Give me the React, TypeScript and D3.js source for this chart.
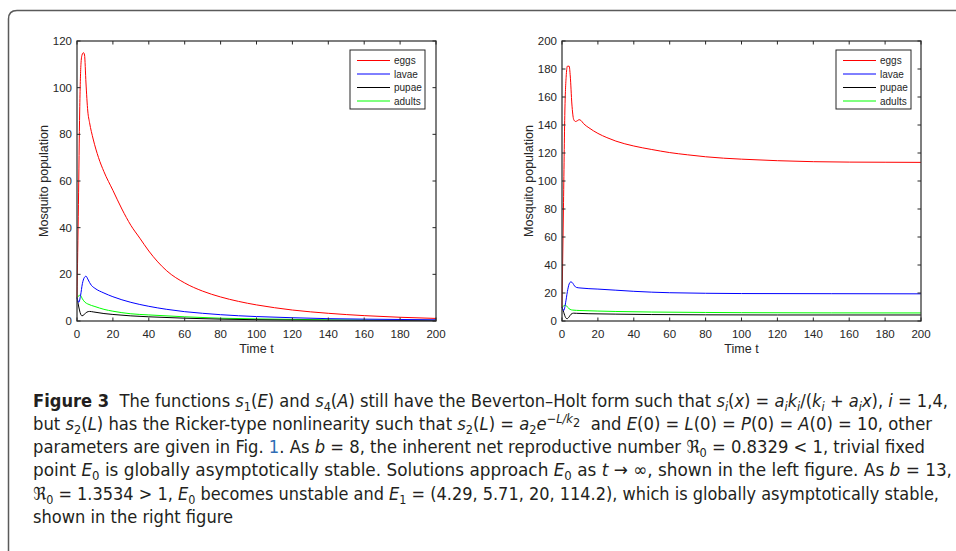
import * as d3 from "d3";

// ---------------------------------------------------------------------------
// DATA  ([t, population])
// ---------------------------------------------------------------------------
// left panel, b = 8
const eggsB8: [number, number][] = [
  [0, 10], [0.8, 50], [1.5, 90], [2.2, 110], [2.8, 114], [3.6, 115], [4.2, 114],
  [5, 102], [6, 90], [7, 85], [9, 78], [12, 70], [15, 64], [20, 56], [25, 48],
  [30, 41], [35, 35.5], [40, 30], [50, 21.5], [60, 16.3], [70, 12.8], [80, 10.3],
  [90, 8.4], [100, 6.9], [110, 5.7], [120, 4.7], [140, 3.3], [160, 2.3], [180, 1.6], [200, 1.1],
];
const lavaeB8: [number, number][] = [
  [0, 10], [1, 8], [2, 11], [3, 16], [4, 18.5], [5, 19.2], [6, 18], [7, 16.5], [8, 15.3],
  [10, 14], [15, 12], [20, 10.4], [30, 8], [40, 6.3], [50, 5], [60, 4], [70, 3.3], [80, 2.7],
  [100, 1.9], [120, 1.4], [140, 1.0], [160, 0.8], [180, 0.65], [200, 0.5],
];
const pupaeB8: [number, number][] = [
  [0, 10], [1, 6], [2, 3], [2.8, 2.2], [4, 2.8], [5.5, 3.8], [7, 4.1], [9, 3.9], [15, 3.2],
  [20, 2.8], [30, 2.2], [40, 1.8], [60, 1.2], [80, 0.8], [100, 0.55], [140, 0.3], [200, 0.15],
];
const adultsB8: [number, number][] = [
  [0, 10], [1, 10.8], [1.8, 11.1], [3, 9.5], [4.5, 8], [6, 7.3], [10, 6.2], [15, 5], [20, 4.2],
  [30, 3.1], [40, 2.6], [60, 1.8], [80, 1.2], [100, 0.9], [140, 0.5], [200, 0.3],
];

// right panel, b = 13
const eggsB13: [number, number][] = [
  [0, 10], [0.8, 80], [1.6, 150], [2.4, 176], [3, 182], [4, 182], [4.6, 175], [5.5, 155],
  [6.5, 144], [7.5, 142.5], [8.5, 143], [9.5, 143.8], [10.5, 143.3], [12, 141], [15, 138],
  [20, 134], [25, 131], [30, 128.5], [40, 125], [50, 122.5], [60, 120.3], [70, 118.7],
  [80, 117.3], [90, 116.3], [100, 115.6], [120, 114.5], [140, 113.8], [160, 113.5],
  [180, 113.4], [200, 113.3],
];
const lavaeB13: [number, number][] = [
  [0, 10], [1, 7.5], [2, 13], [3, 21], [4, 26.5], [5, 28], [6, 27], [7, 25], [8, 24],
  [10, 23.6], [20, 22.8], [30, 22], [40, 21.2], [50, 20.6], [60, 20.2], [80, 19.8],
  [100, 19.6], [150, 19.5], [200, 19.4],
];
const pupaeB13: [number, number][] = [
  [0, 10], [1, 6], [2, 2.5], [2.8, 1.6], [4, 3], [5, 4.8], [6.5, 5.6], [8, 5.5], [15, 5.2],
  [30, 4.9], [50, 4.6], [80, 4.4], [120, 4.3], [200, 4.3],
];
const adultsB13: [number, number][] = [
  [0, 10], [1, 10.8], [2, 11.3], [3, 10], [4.5, 8.3], [6, 7.8], [10, 7.5], [20, 7.1],
  [30, 6.8], [50, 6.4], [80, 6.1], [100, 5.95], [150, 5.8], [200, 5.75],
];

const seriesNames = ["eggs", "lavae", "pupae", "adults"];
const seriesColors = ["#ff0000", "#0000ff", "#000000", "#00ff00"];

const xTicks = [0, 20, 40, 60, 80, 100, 120, 140, 160, 180, 200];
const yTicksB8 = [0, 20, 40, 60, 80, 100, 120];
const yTicksB13 = [0, 20, 40, 60, 80, 100, 120, 140, 160, 180, 200];

// caption: one array of runs per line
type Run = { t: string; i?: boolean; b?: boolean; sub?: boolean; sup?: boolean; link?: boolean };
const captionLines: Run[][] = [
  [
    { t: "Figure 3", b: true }, { t: "  The functions " }, { t: "s", i: true }, { t: "1", sub: true },
    { t: "(" }, { t: "E", i: true }, { t: ") and " }, { t: "s", i: true }, { t: "4", sub: true },
    { t: "(" }, { t: "A", i: true }, { t: ") still have the Beverton–Holt form such that " },
    { t: "s", i: true }, { t: "i", i: true, sub: true }, { t: "(" }, { t: "x", i: true }, { t: ") = " },
    { t: "a", i: true }, { t: "i", i: true, sub: true }, { t: "k", i: true }, { t: "i", i: true, sub: true },
    { t: "/(" }, { t: "k", i: true }, { t: "i", i: true, sub: true }, { t: " + " }, { t: "a", i: true },
    { t: "i", i: true, sub: true }, { t: "x", i: true }, { t: "), " }, { t: "i", i: true }, { t: " = 1,4," },
  ],
  [
    { t: "but " }, { t: "s", i: true }, { t: "2", sub: true }, { t: "(" }, { t: "L", i: true },
    { t: ") has the Ricker-type nonlinearity such that " }, { t: "s", i: true }, { t: "2", sub: true },
    { t: "(" }, { t: "L", i: true }, { t: ") = " }, { t: "a", i: true }, { t: "2", sub: true },
    { t: "e", i: true }, { t: "−L/k", i: true, sup: true }, { t: "2", sup: true, sub: true },
    { t: "  and " }, { t: "E", i: true }, { t: "(0) = " }, { t: "L", i: true }, { t: "(0) = " },
    { t: "P", i: true }, { t: "(0) = " }, { t: "A", i: true }, { t: "(0) = 10, other" },
  ],
  [
    { t: "parameters are given in Fig. " }, { t: "1", link: true }, { t: ". As " }, { t: "b", i: true },
    { t: " = 8, the inherent net reproductive number " }, { t: "ℜ" }, { t: "0", sub: true },
    { t: " = 0.8329 < 1, trivial fixed" },
  ],
  [
    { t: "point " }, { t: "E", i: true }, { t: "0", sub: true },
    { t: " is globally asymptotically stable. Solutions approach " }, { t: "E", i: true },
    { t: "0", sub: true }, { t: " as " }, { t: "t", i: true }, { t: " → ∞, shown in the left figure. As " },
    { t: "b", i: true }, { t: " = 13," },
  ],
  [
    { t: "ℜ" }, { t: "0", sub: true }, { t: " = 1.3534 > 1, " }, { t: "E", i: true }, { t: "0", sub: true },
    { t: " becomes unstable and " }, { t: "E", i: true }, { t: "1", sub: true },
    { t: " = (4.29, 5.71, 20, 114.2), which is globally asymptotically stable," },
  ],
  [{ t: "shown in the right figure" }],
];

// ---------------------------------------------------------------------------
// LAYOUT
// ---------------------------------------------------------------------------
const W = 956;
const H = 551;
const plotTop = 41;
const plotBottom = 321;
const axisFont = "'Liberation Sans', Arial, Helvetica, sans-serif";
const captionFont = "'Liberation Sans Narrow', 'DejaVu Sans Condensed', 'Open Sans', sans-serif";

const panels = [
  { id: "b8", x0: 77, x1: 436, yMax: 120, yTicks: yTicksB8, legendX: 350,
    series: [eggsB8, lavaeB8, pupaeB8, adultsB8] },
  { id: "b13", x0: 562, x1: 921, yMax: 200, yTicks: yTicksB13, legendX: 836,
    series: [eggsB13, lavaeB13, pupaeB13, adultsB13] },
];

const captionX = 33;
const captionBase = 406.5;
const captionStep = 23.3;
const captionWidths = [915, 899, 892, 919, 906, 200];

function Panel({ p }: { p: typeof panels[number] }) {
  const x = d3.scaleLinear().domain([0, 200]).range([p.x0, p.x1]);
  const y = d3.scaleLinear().domain([0, p.yMax]).range([plotBottom, plotTop]);
  const line = d3.line<[number, number]>()
    .x(d => x(d[0]))
    .y(d => y(d[1]))
    .curve(d3.curveMonotoneX);
  const tickLen = 3.5;
  const lx = p.legendX;
  const ly = 50;

  return (
    <g>
      {/* curves, drawn adults first so eggs sits on top */}
      {[...p.series].map((s, i) => ({ s, i })).reverse().map(({ s, i }) => (
        <path key={i} d={line(s) ?? ""} fill="none" stroke={seriesColors[i]} strokeWidth={1} />
      ))}

      {/* axes box */}
      <rect x={p.x0} y={plotTop} width={p.x1 - p.x0} height={plotBottom - plotTop}
        fill="none" stroke="#3a3a3a" strokeWidth={1.3} />

      {xTicks.map(t => (
        <g key={"x" + t}>
          <line x1={x(t)} x2={x(t)} y1={plotBottom} y2={plotBottom - tickLen} stroke="#262626" />
          <line x1={x(t)} x2={x(t)} y1={plotTop} y2={plotTop + tickLen} stroke="#262626" />
          <text x={x(t)} y={338} textAnchor="middle" fontSize={11.5} fontFamily={axisFont} fill="#262626">{t}</text>
        </g>
      ))}
      {p.yTicks.map(t => (
        <g key={"y" + t}>
          <line x1={p.x0} x2={p.x0 + tickLen} y1={y(t)} y2={y(t)} stroke="#262626" />
          <line x1={p.x1} x2={p.x1 - tickLen} y1={y(t)} y2={y(t)} stroke="#262626" />
          <text x={p.x0 - 5} y={y(t) + 4} textAnchor="end" fontSize={11.5} fontFamily={axisFont} fill="#262626">{t}</text>
        </g>
      ))}

      <text x={(p.x0 + p.x1) / 2} y={353} textAnchor="middle" fontSize={12.5} fontFamily={axisFont} fill="#262626">Time t</text>
      <text transform={`translate(${p.x0 - 29},${(plotTop + plotBottom) / 2}) rotate(-90)`}
        textAnchor="middle" fontSize={12.5} fontFamily={axisFont} fill="#262626">Mosquito population</text>

      {/* legend */}
      <rect x={lx} y={ly} width={75} height={59} fill="#fff" stroke="#262626" strokeWidth={1} />
      {seriesNames.map((n, i) => (
        <g key={n}>
          <line x1={lx + 7} x2={lx + 40} y1={ly + 10.5 + i * 13.5} y2={ly + 10.5 + i * 13.5}
            stroke={seriesColors[i]} strokeWidth={1} />
          <text x={lx + 44} y={ly + 14 + i * 13.5} fontSize={10} fontFamily={axisFont} fill="#262626">{n}</text>
        </g>
      ))}
    </g>
  );
}

function CaptionLine({ runs, idx }: { runs: Run[]; idx: number }) {
  let shift = 0;
  return (
    <text x={captionX} y={captionBase + idx * captionStep} fontSize={18} fontFamily={captionFont}
      fill="#231f20" textLength={captionWidths[idx]} lengthAdjust="spacingAndGlyphs"
      style={{ whiteSpace: "pre", fontStretch: "condensed" }}>
      {runs.map((r, k) => {
        const target = r.sup && r.sub ? -3 : r.sup ? -7 : r.sub ? 4 : 0;
        const dy = target - shift;
        shift = target;
        return (
          <tspan key={k} dy={dy || undefined}
            fontStyle={r.i ? "italic" : undefined}
            fontWeight={r.b ? 700 : undefined}
            fontSize={r.sub || r.sup ? 12.5 : undefined}
            fill={r.link ? "#2f6db5" : undefined}>
            {r.t}
          </tspan>
        );
      })}
    </text>
  );
}

export default function App() {
  return (
    <svg width={W} height={H} viewBox={`0 0 ${W} ${H}`}
      style={{ position: "fixed", left: 0, top: 0, background: "#fff", display: "block" }}>
      <rect width={W} height={H} fill="#fff" />
      {/* rounded frame, open to the right and bottom */}
      <path d={`M 8.5 ${H + 10} L 8.5 19 Q 8.5 10.5 17 10.5 L ${W + 10} 10.5`}
        fill="none" stroke="#5a5a5a" strokeWidth={1.5} />
      {panels.map(p => <Panel key={p.id} p={p} />)}
      {captionLines.map((runs, i) => <CaptionLine key={i} runs={runs} idx={i} />)}
    </svg>
  );
}
